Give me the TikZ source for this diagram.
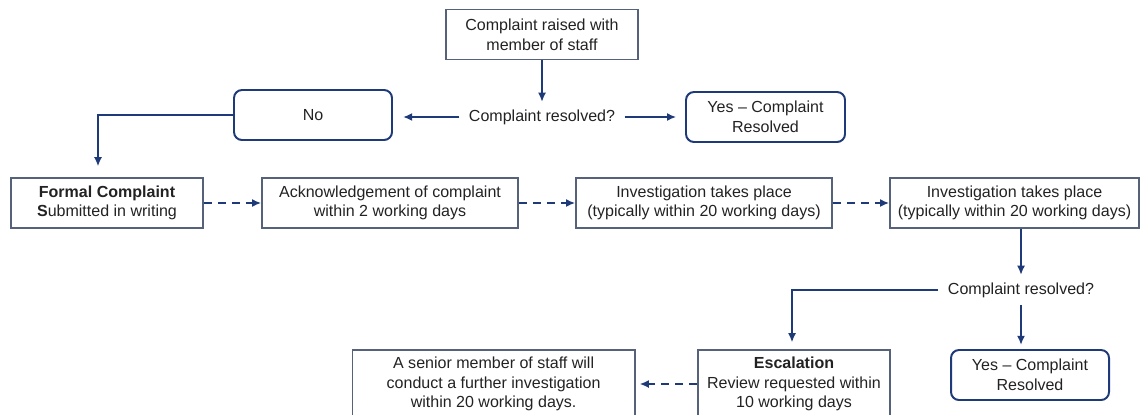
\documentclass[tikz,border=0pt]{standalone}
\usepackage{fontspec}
\setmainfont{Liberation Sans}
\usetikzlibrary{arrows.meta}

\definecolor{navy}{HTML}{1F3A78}
\definecolor{boxgrey}{HTML}{56627A}
\definecolor{inkgrey}{HTML}{222222}

\begin{document}
\begin{tikzpicture}[
    >={Latex[length=2.3mm,width=2mm]},
    every node/.style={font=\fontsize{11.4}{14}\selectfont, text=inkgrey},
    plainbox/.style={draw=boxgrey, line width=1.1pt, align=center, minimum height=1.25cm, inner sep=0pt},
    roundbox/.style={draw=navy, line width=1.4pt, rounded corners=0.2cm, align=center, minimum height=1.25cm, inner sep=0pt},
    question/.style={inner xsep=0.23cm, inner ysep=0.18cm, text height=0.29cm, text depth=0.09cm},
    link/.style={navy, line width=1.4pt, ->},
    dlink/.style={navy, line width=1.4pt, ->, dash pattern=on 0.2cm off 0.15cm}
  ]

    \useasboundingbox (0, 0) rectangle (28.5, 10.35);

    % first contact with staff
    \node[plainbox, minimum width=4.8cm] (raised) at (13.55, 9.4875) {Complaint raised with\\member of staff};
    \node[question] (resolvedA) at (13.55, 7.425) {Complaint resolved?};
    \node[roundbox, minimum width=3.95cm] (no) at (7.825, 7.475) {No};
    \node[roundbox, minimum width=3.975cm] (yesA) at (19.1375, 7.425) {Yes -- Complaint\\Resolved};

    % formal route
    \node[plainbox, minimum width=4.8cm] (formal) at (2.675, 5.275) {\textbf{Formal Complaint}\\\textbf{S}ubmitted in writing};
    \node[plainbox, minimum width=6.4cm] (ack) at (9.75, 5.275) {Acknowledgement of complaint\\within 2 working days};
    \node[plainbox, minimum width=6.4cm] (invA) at (17.6, 5.275) {Investigation takes place\\(typically within 20 working days)};
    \node[plainbox, minimum width=6.225cm] (invB) at (25.3625, 5.275) {Investigation takes place\\(typically within 20 working days)};

    % outcome
    \node[question] (resolvedB) at (25.525, 3.1) {Complaint resolved?};
    \node[roundbox, minimum width=3.95cm] (yesB) at (25.75, 0.975) {Yes -- Complaint\\Resolved};
    \node[plainbox, minimum width=4.8cm, minimum height=1.7cm] (escal) at (19.85, 0.75) {\textbf{Escalation}\\Review requested within\\10 working days};
    \node[plainbox, minimum width=7.06cm, minimum height=1.7cm] (senior) at (12.34, 0.75) {A senior member of staff will\\conduct a further investigation\\within 20 working days.};

    \draw[link] (raised) -- (resolvedA);
    \draw[link, shorten >=0.25cm] (resolvedA.west) -- (resolvedA.west -| no.east);
    \draw[link, shorten >=0.22cm] (resolvedA.east) -- (resolvedA.east -| yesA.west);
    \draw[link, shorten >=0.27cm] (no.west) -| ([xshift=-0.225cm]formal.north);

    \draw[dlink] (formal) -- (ack);
    \draw[dlink] (ack) -- (invA);
    \draw[dlink] (invA) -- (invB);

    \draw[link] (invB.south -| resolvedB) -- (resolvedB);
    \draw[link, shorten >=0.1cm] (resolvedB) -- (resolvedB |- yesB.north);
    \draw[link, shorten >=0.17cm] (resolvedB.west) -| ([xshift=-0.05cm]escal.north);
    \draw[dlink, shorten >=0.1cm] (escal) -- (senior);

\end{tikzpicture}
\end{document}
